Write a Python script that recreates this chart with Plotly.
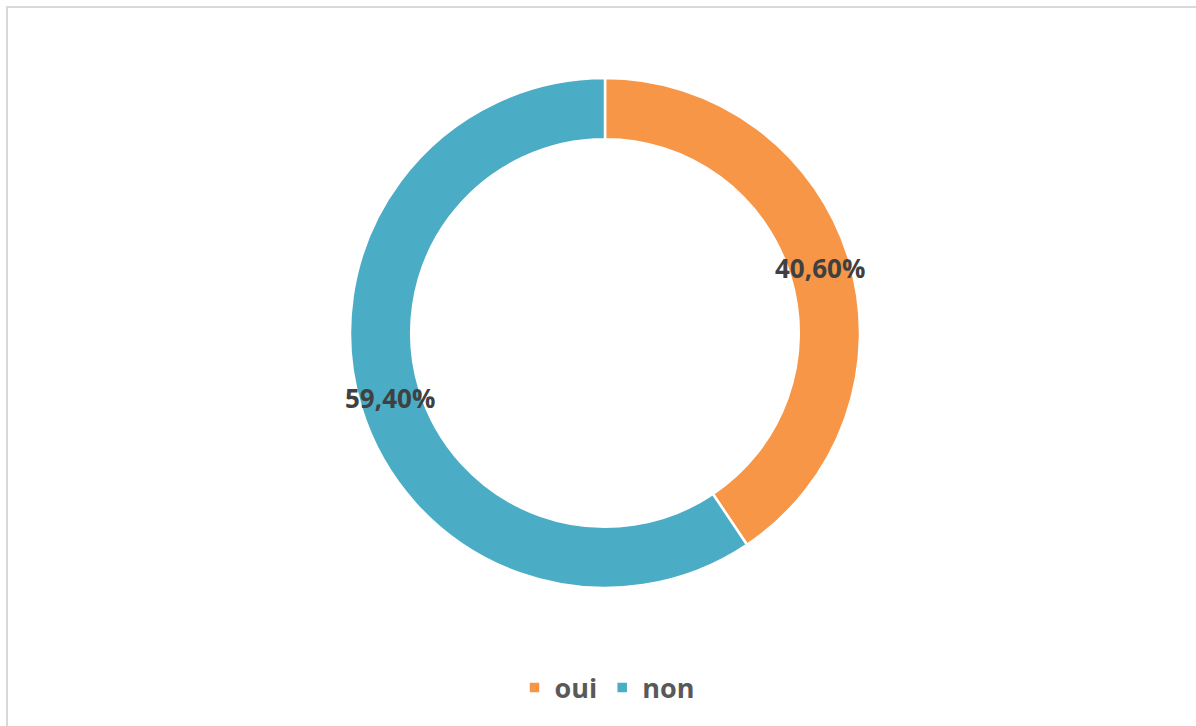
import math
import plotly.graph_objects as go

labels = ["oui", "non"]
values = [40.6, 59.4]
value_text = ["40,60%", "59,40%"]
colors = ["#F79646", "#4BACC6"]

W, H = 1196, 726
# pie placement (pixels)
cx_px, cy_px, r_out = 605, 333, 255
hole = 0.76

dom_x = [(cx_px - r_out) / W, (cx_px + r_out) / W]
dom_y = [1 - (cy_px + r_out) / H, 1 - (cy_px - r_out) / H]

fig = go.Figure()
fig.add_trace(go.Pie(
    labels=labels,
    values=values,
    hole=hole,
    sort=False,
    direction="clockwise",
    rotation=0,
    marker=dict(colors=colors, line=dict(color="white", width=2.5)),
    textinfo="none",
    hoverinfo="label+percent",
    domain=dict(x=dom_x, y=dom_y),
))

# data labels placed at the middle of the ring, derived from the values
total = sum(values)
r_mid = r_out * (1 + hole) / 2
cum = 0.0
annotations = []
for v, t in zip(values, value_text):
    mid = (cum + v / 2) / total * 2 * math.pi
    cum += v
    px = cx_px + r_mid * math.sin(mid)
    py = cy_px - r_mid * math.cos(mid)
    annotations.append(dict(
        x=px / W, y=1 - py / H, xref="paper", yref="paper",
        text=t, showarrow=False, xanchor="center", yanchor="middle",
        font=dict(family="Open Sans", size=26, color="#404040", weight="bold"),
    ))

fig.update_layout(
    width=W, height=H,
    margin=dict(l=0, r=0, t=0, b=0),
    paper_bgcolor="white",
    plot_bgcolor="white",
    annotations=annotations,
    showlegend=True,
    legend=dict(
        orientation="h",
        x=607 / W, xanchor="center",
        y=1 - 688 / H, yanchor="middle",
        font=dict(family="Open Sans", size=27, color="#595959", weight="bold"),
        itemclick=False,
    ),
    shapes=[dict(
        type="rect", xref="paper", yref="paper",
        x0=7 / W, x1=1.02, y0=-0.02, y1=1 - 7 / H,
        line=dict(color="#D9D9D9", width=2),
        fillcolor="rgba(0,0,0,0)",
    )],
)

fig.write_html("out.html", config={"displayModeBar": False},
               post_script="document.body.style.margin='0px';")
